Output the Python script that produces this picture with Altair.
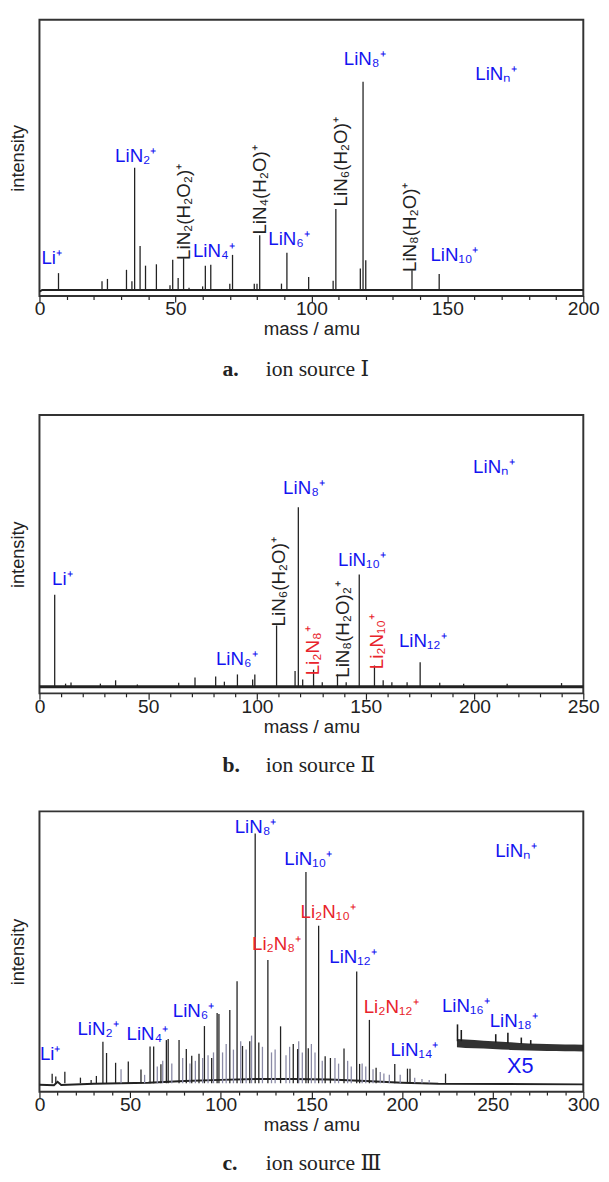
import altair as alt
import pandas as pd

FONT = "Liberation Sans Narrow, Arial Narrow, Liberation Sans, Arial, sans-serif"
SERIF = "Liberation Serif, DejaVu Serif, serif"
BLUE = "#1414f0"
RED = "#e8232b"
DARK = "#222222"

# ---------------- panel a : ion source I ----------------
a_mass = [7, 23, 25, 32, 34, 35, 37, 39, 43, 48, 49, 51, 53, 55, 60, 61, 63, 70, 71,
          79, 80, 81, 89, 91, 99, 108, 109, 118, 119, 120, 137, 147]
a_int = [8.3, 5.4, 6.2, 9.5, 5.4, 46.4, 18.1, 11.0, 11.5, 3.9, 13.1, 6.5, 13.7, 3.0, 3.5,
         11.0, 11.3, 4.5, 14.9, 4.5, 4.5, 22.0, 4.5, 15.7, 6.9, 5.5, 31.5, 10.0, 77.6, 13.0,
         9.3, 8.0]
a_base_mass = [0, 1, 200]
a_base_int = [1.6, 2.2, 2.2]
a_lab_text = ["Li⁺", "LiN₂⁺", "LiN₄⁺", "LiN₆⁺", "LiN₈⁺", "LiN₁₀⁺", "LiNₙ⁺"]
a_lab_mass = [4.5, 35.4, 64.1, 91.8, 119.6, 152.6, 168.0]
a_lab_int = [13.9, 50.6, 16.2, 20.7, 85.8, 15.0, 80.2]
a_lab_color = [BLUE] * 7
a_rot_text = ["LiN₂(H₂O₂)⁺", "LiN₄(H₂O)⁺", "LiN₆(H₂O)⁺", "LiN₈(H₂O)⁺"]
a_rot_mass = [53.3, 81.0, 110.9, 136.4]
a_rot_int = [30.5, 38.4, 48.6, 24.9]
a_rot_color = [DARK] * 4

# ---------------- panel b : ion source II ----------------
b_mass = [7, 12, 14.5, 28, 35, 45, 64, 71.5, 81, 85, 91, 98, 99, 109, 117.5, 119, 121,
          126, 130, 137, 141, 147, 154, 158, 162, 169, 175, 184, 195, 215, 240]
b_int = [35.4, 3.5, 3.9, 3.5, 4.7, 3.2, 3.8, 5.7, 6.1, 4.2, 6.8, 5.0, 6.8, 24.4, 8.0,
         66.9, 5.0, 8.5, 4.0, 6.8, 4.0, 42.7, 10.0, 4.7, 4.0, 4.0, 11.2, 3.8, 3.5, 3.5, 3.7]
b_base_mass = [0, 250]
b_base_int = [2.4, 2.4]
b_lab_text = ["Li⁺", "LiN₆⁺", "LiN₈⁺", "LiN₁₀⁺", "LiN₁₂⁺", "LiNₙ⁺"]
b_lab_mass = [10.5, 90.7, 121.6, 148.3, 176.2, 209.0]
b_lab_int = [41.0, 12.4, 73.7, 48.0, 18.9, 81.4]
b_lab_color = [BLUE] * 6
b_rot_text = ["LiN₆(H₂O)⁺", "Li₂N₈⁺", "LiN₈(H₂O)₂⁺", "Li₂N₁₀⁺"]
b_rot_mass = [110.3, 125.6, 139.6, 155.3]
b_rot_int = [40.1, 15.3, 23.0, 18.6]
b_rot_color = [DARK, RED, DARK, RED]

# ---------------- panel c : ion source III ----------------
c_mass = [7, 9, 14, 22.6, 28.5, 31.4, 35, 37, 42, 49, 56, 61, 63, 67, 70, 71, 77, 81, 84,
          88, 91, 95, 98, 99, 105, 109, 112, 116, 119, 121, 126, 133, 140, 142.4, 147,
          148.3, 154, 157.6, 160.5, 168, 175, 176.6, 182, 185.7, 196, 203, 204.4, 224]
c_int = [6.4, 5.4, 7.1, 5.0, 4.2, 5.6, 17.8, 13.8, 10.3, 10.8, 7.9, 16.1, 16.1, 9.8, 18.4,
         18.8, 18.4, 15.2, 12.8, 13.5, 23.4, 12.0, 28.1, 27.7, 29.1, 39.4, 16.3, 18.0, 92.1,
         17.5, 47.0, 23.3, 17.0, 15.2, 78.4, 15.5, 59.2, 12.6, 12.0, 15.4, 42.9, 9.9, 25.6,
         8.5, 9.9, 8.2, 8.2, 6.4]
c_minor_mass = [45, 58, 65, 68, 73, 79, 83, 86, 90, 93, 96, 101, 103, 107, 111, 114, 117,
                123, 128, 130, 136, 138, 143, 145, 150, 152, 156, 163, 165, 170, 172, 178,
                180, 184, 188, 190, 193, 199, 207, 211, 215]
c_minor_int = [8, 6, 9, 11, 10, 12, 10, 11, 12, 13, 14, 14, 17, 15, 18, 15, 20, 16, 14, 15,
               13, 16, 18, 14, 17, 14, 11, 12, 10, 11, 9, 10, 9, 8, 7, 6.5, 6, 6, 5, 4.5, 4.2]
c_base_mass = [0, 8, 10, 12, 30, 60, 80, 100, 120, 140, 160, 180, 200, 220, 300]
c_base_int = [2.5, 2.3, 3.5, 2.4, 2.8, 3.2, 3.8, 4.2, 4.5, 4.5, 4.3, 3.8, 3.2, 2.8, 2.6]
# X5 inset: noise band (lower / upper envelope) and spikes on top of it
c_x5_mass = [230.3, 235, 240, 245, 250, 255, 260, 265, 270, 275, 280, 285, 290, 295, 300]
c_x5_lo = [15.8, 15.6, 15.5, 15.4, 15.2, 15.0, 14.9, 14.8, 14.7, 14.6, 14.5, 14.5, 14.4, 14.4, 14.3]
c_x5_hi = [18.8, 18.6, 18.4, 18.2, 18.0, 17.8, 17.6, 17.4, 17.2, 17.1, 17.0, 16.9, 16.8, 16.8, 16.7]
c_x5_spike_mass = [230.6, 232.7, 251.7, 258.4, 265.8, 271]
c_x5_spike_int = [24.0, 22.0, 20.5, 21.0, 19.3, 18.4]
c_x5_spike_base = [18.0, 18.0, 17.5, 17.3, 17.0, 16.8]
c_lab_text = ["Li⁺", "LiN₂⁺", "LiN₄⁺", "LiN₆⁺", "LiN₈⁺", "LiN₁₀⁺", "Li₂N₁₀⁺", "Li₂N₈⁺",
              "LiN₁₂⁺", "Li₂N₁₂⁺", "LiN₁₄⁺", "LiN₁₆⁺", "LiN₁₈⁺", "LiNₙ⁺"]
c_lab_mass = [5.9, 32.3, 59.5, 85.0, 119.2, 148.3, 159.3, 130.8, 173.0, 194.0, 206.8, 235.2,
              261.6, 263.0]
c_lab_int = [13.4, 22.3, 20.7, 28.7, 94.4, 83.1, 63.9, 52.8, 48.1, 30.1, 14.7, 30.7, 25.2, 85.8]
c_lab_color = [BLUE, BLUE, BLUE, BLUE, BLUE, BLUE, RED, RED, BLUE, RED, BLUE, BLUE, BLUE, BLUE]

captions_letter = ["a.", "b.", "c."]
captions_text = ["ion source Ⅰ", "ion source Ⅱ", "ion source Ⅲ"]

W = 553


def panel(xmax, H, peaks, base, labels, rot, caption_idx, cap_off, minor=None, base_w=2.0,
          inset=None, extra_text=None):
    xs = alt.X("mass:Q", scale=alt.Scale(domain=[0, xmax], nice=False, zero=False),
               axis=alt.Axis(values=list(range(0, xmax + 1, 10)),
                             labelExpr="datum.value % 50 === 0 ? datum.label : ''",
                             tickSize={"condition": {"test": "datum.value % 50 === 0",
                                                     "value": 6}, "value": 3.5},
                             title="mass / amu", labelPadding=-2, titlePadding=2,
                             domain=False, grid=False, labelFlush=False))
    ys = alt.Y("inten:Q", scale=alt.Scale(domain=[0, 100], nice=False),
               axis=alt.Axis(title="intensity", labels=False, ticks=False, domain=False,
                             grid=False, titlePadding=12, titleFontSize=18.5))
    layers = []
    bdf = pd.DataFrame({"mass": base[0], "inten": base[1]})
    layers.append(alt.Chart(bdf).mark_line(color=DARK, strokeWidth=base_w).encode(x=xs, y=ys))
    if minor is not None:
        mdf = pd.DataFrame({"mass": minor[0], "inten": minor[1], "base": 3.0})
        layers.append(alt.Chart(mdf).mark_rule(color="#8a8aa6", strokeWidth=1.3).encode(
            x=xs, y=ys, y2="base:Q"))
    pdf = pd.DataFrame({"mass": peaks[0], "inten": peaks[1], "base": peaks[2]})
    layers.append(alt.Chart(pdf).mark_rule(color=DARK, strokeWidth=1.3).encode(
        x=xs, y=ys, y2="base:Q"))
    if inset is not None:
        idf = pd.DataFrame({"mass": inset[0], "inten": inset[1], "hi": inset[2]})
        layers.append(alt.Chart(idf).mark_area(color="#1c1c1c", opacity=0.9).encode(
            x=xs, y=ys, y2="hi:Q"))
        sdf = pd.DataFrame({"mass": inset[3], "inten": inset[4], "base": inset[5]})
        layers.append(alt.Chart(sdf).mark_rule(color="#1c1c1c", strokeWidth=1.6).encode(
            x=xs, y=ys, y2="base:Q"))
    ldf = pd.DataFrame({"mass": labels[0], "inten": labels[1], "text": labels[2],
                        "color": labels[3]})
    layers.append(alt.Chart(ldf).mark_text(font=FONT, fontSize=19, align="center",
                                           baseline="middle").encode(
        x=xs, y=ys, text="text:N", color=alt.Color("color:N", scale=None)))
    if rot is not None:
        rdf = pd.DataFrame({"mass": rot[0], "inten": rot[1], "text": rot[2], "color": rot[3]})
        layers.append(alt.Chart(rdf).mark_text(font=FONT, fontSize=19, align="center",
                                               baseline="middle", angle=270).encode(
            x=xs, y=ys, text="text:N", color=alt.Color("color:N", scale=None)))
    if extra_text is not None:
        edf = pd.DataFrame({"mass": [extra_text[0]], "inten": [extra_text[1]],
                            "text": [extra_text[2]]})
        layers.append(alt.Chart(edf).mark_text(font=FONT, fontSize=22, color=BLUE,
                                               align="center", baseline="middle").encode(
            x=xs, y=ys, text="text:N"))
    cdf = pd.DataFrame({"letter": [captions_letter[caption_idx]],
                        "cap": [captions_text[caption_idx]]})
    layers.append(alt.Chart(cdf).mark_text(font=SERIF, fontSize=22, fontWeight="bold",
                                           color=DARK, align="left", baseline="middle").encode(
        x=alt.value(186), y=alt.value(H + cap_off), text="letter:N"))
    layers.append(alt.Chart(cdf).mark_text(font=SERIF, fontSize=22, color=DARK,
                                           align="left", baseline="middle").encode(
        x=alt.value(230), y=alt.value(H + cap_off), text="cap:N"))
    return alt.layer(*layers).properties(width=W, height=H)


pa = panel(200, 281, (a_mass, a_int, [2.2] * len(a_mass)), (a_base_mass, a_base_int),
           (a_lab_mass, a_lab_int, a_lab_text, a_lab_color),
           (a_rot_mass, a_rot_int, a_rot_text, a_rot_color), 0, 74)
pb = panel(250, 283, (b_mass, b_int, [2.4] * len(b_mass)), (b_base_mass, b_base_int),
           (b_lab_mass, b_lab_int, b_lab_text, b_lab_color),
           (b_rot_mass, b_rot_int, b_rot_text, b_rot_color), 1, 73, base_w=3.0)
pc = panel(300, 285, (c_mass, c_int, [3.0] * len(c_mass)), (c_base_mass, c_base_int),
           (c_lab_mass, c_lab_int, c_lab_text, c_lab_color), None, 2, 73,
           minor=(c_minor_mass, c_minor_int),
           inset=(c_x5_mass, c_x5_lo, c_x5_hi, c_x5_spike_mass, c_x5_spike_int,
                  c_x5_spike_base),
           extra_text=(265.2, 9.1, "X5"))

chart = alt.vconcat(pa, pb, pc, spacing=34).properties(
    padding={"top": 1, "left": 0, "right": 0, "bottom": 0}, background="white"
).configure_view(stroke="#333333", strokeWidth=2).configure_axis(
    labelFont=FONT, titleFont=FONT, labelFontSize=19.5, titleFontSize=19,
    labelColor=DARK, titleColor=DARK, titleFontWeight="normal", tickColor=DARK,
    tickWidth=1.2
)

chart.save("out.html", embed_options={"renderer": "svg", "actions": False})
